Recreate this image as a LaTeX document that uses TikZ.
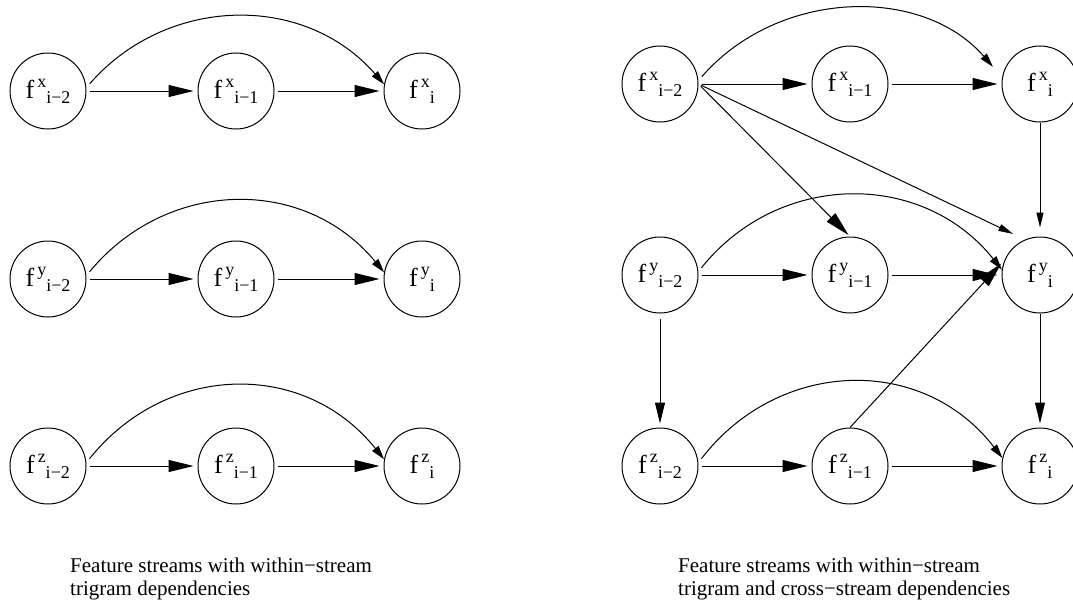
\documentclass[tikz,border=0pt]{standalone}
\usepackage{fontspec}
\setmainfont{Liberation Serif}
\usetikzlibrary{arrows.meta}
\tikzset{
    fnode/.style={circle, draw, line width=1pt, minimum size=76pt, inner sep=0pt, font=\fontsize{26}{26}\selectfont},
    bigarr/.style={draw, line width=1pt, -{Triangle[length=25pt, width=12pt]}, shorten <=3pt, shorten >=4pt},
    vertarr/.style={draw, line width=1pt, -{Triangle[length=21pt, width=10pt]}, shorten <=5pt, shorten >=4pt},
    midarr/.style={draw, line width=1pt, -{Triangle[length=15pt, width=7pt]}},
    arcarr/.style={draw, line width=1pt, -{Triangle[length=14pt, width=8pt]}, shorten <=5pt},
    caption/.style={anchor=north west, align=left, inner sep=0pt, font=\fontsize{21}{23}\selectfont},
}
\newcommand{\fval}[2]{f\kern3pt\raisebox{11pt}{\fontsize{18}{18}\selectfont #1}\raisebox{-5pt}{\fontsize{18}{18}\selectfont #2}}

\begin{document}
\begin{tikzpicture}[x=1pt, y=-1pt]
    \useasboundingbox (0,0) rectangle (1073,602);
    % within-stream trigram dependencies
    \foreach \s/\y/\h in {x/91/92, y/279/97, z/466/100} {
        \node[fnode] (l\s2) at (48,\y) {\fval{\s}{i−2}};
        \node[fnode] (l\s1) at (236,\y) {\fval{\s}{i−1}};
        \node[fnode] (l\s0) at (422,\y) {\fval{\s}{i}};
        \draw[bigarr] (l\s2) -- (l\s1);
        \draw[bigarr] (l\s1) -- (l\s0);
        \draw[arcarr] (l\s2.5) .. controls +(80,-\h) and +(-80,-\h) .. (l\s0.170);
    }
    % trigram and cross-stream dependencies
    \foreach \s/\y in {x/84, y/275, z/466} {
        \node[fnode] (r\s2) at (660,\y) {\fval{\s}{i−2}};
        \node[fnode] (r\s1) at (850,\y) {\fval{\s}{i−1}};
        \node[fnode] (r\s0) at (1040,\y) {\fval{\s}{i}};
        \draw[bigarr] (r\s2) -- (r\s1);
        \draw[bigarr] (r\s1) -- (r\s0);
    }
    \draw[arcarr, shorten >=14pt] (rx2.5) .. controls +(80,-92) and +(-80,-92) .. (rx0.170);
    \draw[arcarr] (ry2.5) .. controls +(80,-100) and +(-80,-100) .. (ry0.172);
    \draw[arcarr] (rz2.5) .. controls +(80,-104) and +(-80,-104) .. (rz0.168);
    \draw[bigarr, shorten >=2pt] (rx2.east) -- (ry1.north);
    \draw[midarr, shorten <=3pt, shorten >=13pt] (rx2.east) -- (ry0.113);
    \draw[midarr, shorten >=9pt] (rx0.south) -- (ry0.north);
    \draw[vertarr] (ry2.south) -- (rz2.north);
    \draw[vertarr, shorten <=0pt] (ry0.south) -- (rz0.north);
    \draw[bigarr, shorten <=0pt, shorten >=5pt] (rz1.north) -- (ry0.157);
    % captions
    \node[caption] (capl) at (70,557.5) {Feature streams with within−stream\\trigram dependencies};
    \node[caption] (capr) at (678,557.5) {Feature streams with within−stream\\trigram and cross−stream dependencies};
\end{tikzpicture}
\end{document}
